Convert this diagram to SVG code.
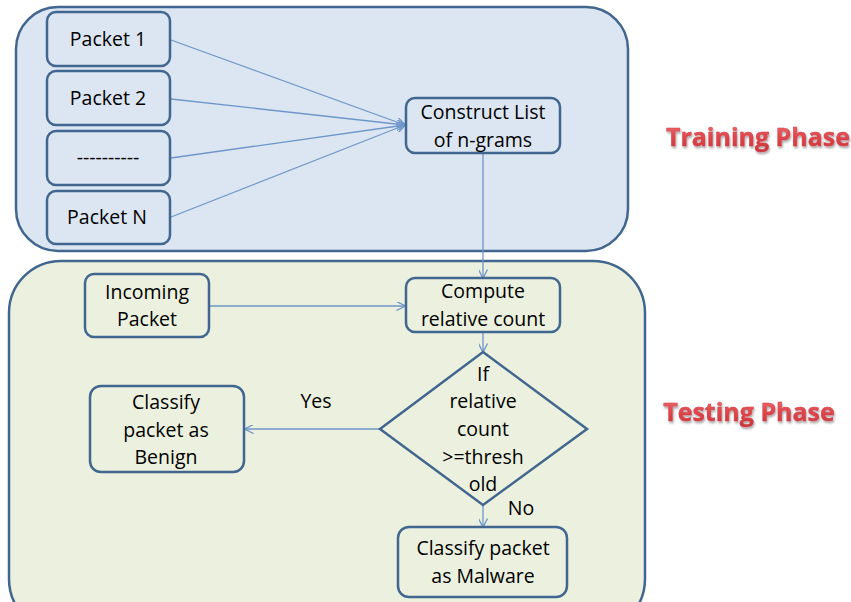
<svg xmlns="http://www.w3.org/2000/svg" width="851" height="602" viewBox="0 0 851 602">
<defs>
<style>
.panel{stroke:#41668f;stroke-width:2.5}
.box{stroke:#41668f;stroke-width:2.5;fill:none}
.t{font-family:"Open Sans","Liberation Sans",sans-serif;font-size:19.5px;fill:#000;text-anchor:middle}
.c{stroke:#6f96c9;stroke-width:1.3;fill:none}
.ph{font-family:"Open Sans","Liberation Sans",sans-serif;font-weight:bold;font-size:25px;fill:url(#rg);stroke:#d04048;stroke-width:0.4;text-anchor:middle;filter:url(#sh)}
</style>
<linearGradient id="rg" x1="0" y1="0" x2="0" y2="1">
<stop offset="0" stop-color="#f07a7e"/>
<stop offset="0.5" stop-color="#e0474c"/>
<stop offset="1" stop-color="#c8323a"/>
</linearGradient>
<filter id="sh" x="-10%" y="-30%" width="120%" height="170%">
<feDropShadow dx="1" dy="2" stdDeviation="1.2" flood-color="#000" flood-opacity="0.35"/>
</filter>
<marker id="a" viewBox="0 0 10 10" refX="9.5" refY="5" markerWidth="9" markerHeight="9" markerUnits="userSpaceOnUse" orient="auto">
<path d="M0,0 L10,5 L0,10" fill="none" stroke="#6f96c9" stroke-width="1.5"/>
</marker>
</defs>
<rect width="851" height="602" fill="#fff"/>
<g id="training-panel">
<rect class="panel" x="16" y="7" width="612" height="244" rx="42" fill="#dce6f2"/>
</g>
<g id="testing-panel">
<rect class="panel" x="9" y="261" width="636" height="370" rx="52" fill="#ebf1de"/>
</g>
<g id="connectors">
<line class="c" x1="171" y1="40" x2="405" y2="125" marker-end="url(#a)"/>
<line class="c" x1="171" y1="99" x2="405" y2="125" marker-end="url(#a)"/>
<line class="c" x1="171" y1="158" x2="405" y2="125" marker-end="url(#a)"/>
<line class="c" x1="171" y1="217" x2="405" y2="125" marker-end="url(#a)"/>
<line class="c" x1="483" y1="153" x2="483" y2="278" marker-end="url(#a)"/>
<line class="c" x1="209" y1="306" x2="405" y2="306" marker-end="url(#a)"/>
<line class="c" x1="483" y1="332" x2="483" y2="352" marker-end="url(#a)"/>
<line class="c" x1="380" y1="429" x2="245" y2="429" marker-end="url(#a)"/>
<line class="c" x1="483" y1="505" x2="483" y2="527" marker-end="url(#a)"/>
</g>
<g id="packet1"><rect class="box" x="47" y="12" width="123" height="54" rx="9"/><text class="t" x="108" y="46">Packet 1</text></g>
<g id="packet2"><rect class="box" x="47" y="71" width="123" height="54" rx="9"/><text class="t" x="108" y="105">Packet 2</text></g>
<g id="dashes"><rect class="box" x="47" y="131" width="123" height="54" rx="9"/><text class="t" x="108" y="164">----------</text></g>
<g id="packetN"><rect class="box" x="47" y="191" width="123" height="53" rx="9"/><text class="t" x="107" y="224">Packet N</text></g>
<g id="construct"><rect class="box" x="406" y="98" width="154" height="55" rx="9"/><text class="t" x="483" y="119">Construct List</text><text class="t" x="483" y="147">of n-grams</text></g>
<g id="incoming"><rect class="box" x="85" y="274" width="124" height="63" rx="9"/><text class="t" x="147" y="299">Incoming</text><text class="t" x="147" y="326">Packet</text></g>
<g id="compute"><rect class="box" x="406" y="278" width="154" height="54" rx="9"/><text class="t" x="483" y="298">Compute</text><text class="t" x="483" y="326">relative count</text></g>
<g id="decision"><polygon class="box" points="483,352 587,429 483,505 380,429"/><text class="t" x="483" y="381">If</text><text class="t" x="483" y="408">relative</text><text class="t" x="483" y="436">count</text><text class="t" x="483" y="464">&gt;=thresh</text><text class="t" x="483" y="491">old</text></g>
<g id="benign"><rect class="box" x="90" y="386" width="154" height="86" rx="11"/><text class="t" x="166" y="409">Classify</text><text class="t" x="166" y="437">packet as</text><text class="t" x="166" y="464">Benign</text></g>
<g id="malware"><rect class="box" x="398" y="527" width="169" height="70" rx="11"/><text class="t" x="483" y="555">Classify packet</text><text class="t" x="483" y="583">as Malware</text></g>
<text class="t" x="316" y="408">Yes</text>
<text class="t" x="521" y="515">No</text>
<text class="ph" x="758" y="146">Training Phase</text>
<text class="ph" x="749" y="421">Testing Phase</text>
</svg>
